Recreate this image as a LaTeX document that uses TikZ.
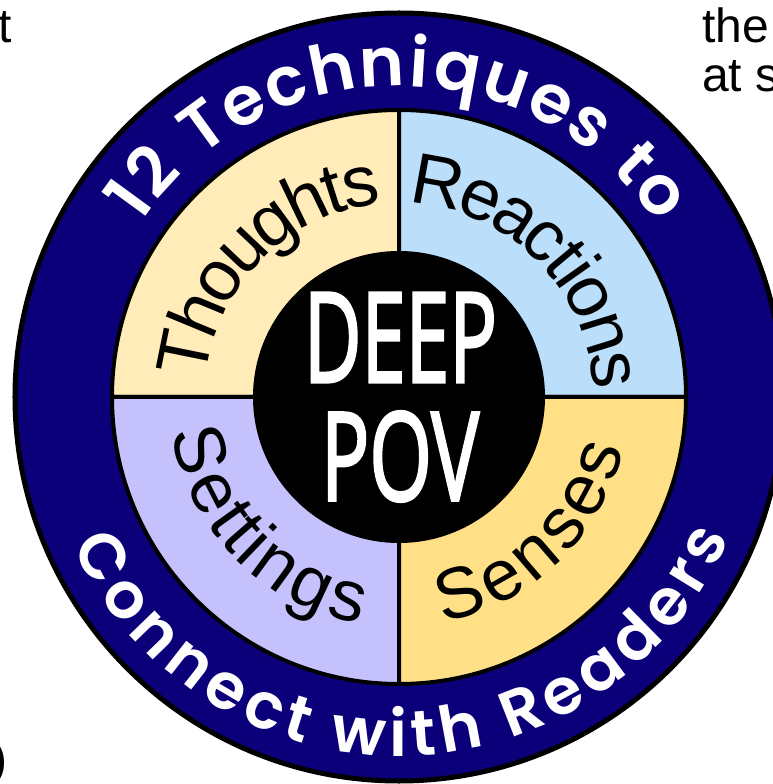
\documentclass[tikz,border=0pt]{standalone}
\usepackage{fontspec}
\setmainfont{Liberation Sans}
\newfontfamily\ringfamily{Poppins}[BoldFont={Poppins SemiBold}]
\newfontfamily\deepfamily{Open Sans}[FakeBold=2.5]
\usetikzlibrary{decorations.text}
\definecolor{ringblue}{RGB}{12,0,122}
\definecolor{thoughtsc}{RGB}{255,236,185}
\definecolor{reactionsc}{RGB}{187,222,251}
\definecolor{settingsc}{RGB}{197,193,253}
\definecolor{sensesc}{RGB}{255,224,135}
\newcommand\qfont{\fontsize{72pt}{72pt}\selectfont}
\newcommand\rfont{\ringfamily\bfseries\fontsize{68pt}{68pt}\selectfont}
\newcommand\rfontb{\ringfamily\bfseries\fontsize{64pt}{64pt}\selectfont}
\newcommand\edgefont{\fontsize{48pt}{48pt}\selectfont}
\begin{document}
\begin{tikzpicture}[x=1pt,y=1pt,
  quad/.style={draw=black,line width=4pt,line join=round},
  qlabel/.style={decorate,decoration={text along path,text align=center,raise=-25pt,text color=black}},
  ringlabel/.style={decorate,decoration={text along path,text align={fit to path},raise=-25pt,text color=white}},
  edgetext/.style={inner sep=0pt,font=\edgefont,text=black},
  bigword/.style={inner sep=0pt,text=white}]
\useasboundingbox (-399,-387) rectangle (373,397);
\fill[white] (-399,-387) rectangle (373,397);
% outer ring
\draw[fill=ringblue,line width=5pt] (0,0) circle[radius=384];
% quadrants
\draw[quad,fill=thoughtsc] (0,0) -- (180:287) arc[start angle=180,end angle=90,radius=287] -- cycle;
\draw[quad,fill=reactionsc] (0,0) -- (90:287) arc[start angle=90,end angle=0,radius=287] -- cycle;
\draw[quad,fill=settingsc] (0,0) -- (180:287) arc[start angle=180,end angle=270,radius=287] -- cycle;
\draw[quad,fill=sensesc] (0,0) -- (270:287) arc[start angle=270,end angle=360,radius=287] -- cycle;
% centre disc
\fill[black] (0,0) circle[radius=146];
% quadrant labels
\path[qlabel,decoration={text={|\qfont|Thoughts}}] (180:219) arc[start angle=180,end angle=90,radius=219];
\path[qlabel,decoration={text={|\qfont|Reactions}}] (89:219) arc[start angle=89,end angle=0,radius=219];
\path[qlabel,decoration={text={|\qfont|Settings}}] (180:205) arc[start angle=180,end angle=269,radius=205];
\path[qlabel,decoration={text={|\qfont|Senses}}] (270:205) arc[start angle=270,end angle=358,radius=205];
% ring labels
\path[ringlabel,decoration={text={|\rfont|12 Techniques to}}] (146:336) arc[start angle=146,end angle=34,radius=336];
\path[ringlabel,decoration={text={|\rfontb|Connect with Readers}}] (204:334) arc[start angle=204,end angle=337,radius=334];
% centre words
\node[bigword] (deep) at (1.5,59.5) {\resizebox{193pt}{89pt}{\deepfamily DEEP}};
\node[bigword] (pov) at (1,-59.5) {\resizebox{158pt}{89pt}{\deepfamily POV}};
% edge fragments
\node[edgetext,anchor=base west] (the) at (303,354) {the};
\node[edgetext,anchor=base west] (ats) at (303,305) {at s};
\node[edgetext,anchor=base west] (tfrag) at (-401,354) {t};
\node[edgetext,anchor=base east] (paren) at (-391,-378) {)};
\end{tikzpicture}
\end{document}
